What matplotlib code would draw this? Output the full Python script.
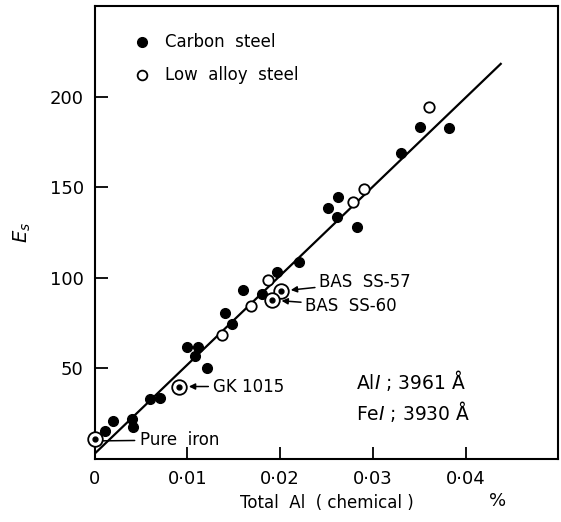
# Es against total Al, carbon and low alloy steels
import matplotlib.pyplot as plt

plt.rcParams['font.family'] = ['DejaVu Sans']

# carbon steel (filled)
carbon_al = [0.0011, 0.0020, 0.0040, 0.0041, 0.0060, 0.0070, 0.0100, 0.0108, 0.0111,
             0.0121, 0.0140, 0.0148, 0.0160, 0.0180, 0.0197, 0.0220, 0.0252, 0.0261,
             0.0262, 0.0283, 0.0330, 0.0351, 0.0382]
carbon_es = [15.5, 21, 22, 17.7, 33, 33.7, 62, 57, 62,
             50, 80.6, 74.5, 93, 91, 103, 108.7, 138.5, 133.5,
             144.6, 128, 169, 183, 182.7]

# low alloy steel (open)
alloy_al = [0.0137, 0.0169, 0.0187, 0.0279, 0.0290, 0.0361]
alloy_es = [68.5, 84.4, 98.8, 141.8, 149, 194]

# standard samples (circled dot)
std_names = ["Pure  iron", "GK 1015", "BAS  SS-57", "BAS  SS-60"]
std_al = [0.0000, 0.0091, 0.0201, 0.0191]
std_es = [11, 40, 92.7, 87.7]

# calibration line
line_al = [0.0, 0.0438]
intercept, slope = 3.0, 4910.0
line_es = [intercept + slope * v for v in line_al]

fig = plt.figure(figsize=(5.61, 5.22), dpi=100)
ax = fig.add_axes([0.169, 0.1207, 0.826, 0.8678])

ax.plot(line_al, line_es, color='black', lw=1.6, zorder=2)
ax.plot(carbon_al, carbon_es, 'o', ms=7, color='black', zorder=3)
ax.plot(alloy_al, alloy_es, 'o', ms=7.5, mfc='white', mec='black', mew=1.3, zorder=3)
ax.plot(std_al, std_es, 'o', ms=10.5, mfc='white', mec='black', mew=1.3, zorder=3, clip_on=False)
ax.plot(std_al, std_es, 'o', ms=3.5, color='black', zorder=4, clip_on=False)

ax.set_xlim(0, 0.05)
ax.set_ylim(0, 250)
ax.set_xticks([0, 0.01, 0.02, 0.03, 0.04])
ax.set_xticklabels(["0", "0·01", "0·02", "0·03", "0·04"])
ax.set_yticks([50, 100, 150, 200])
ax.tick_params(direction='in', length=9, width=1.3, labelsize=13)
ax.tick_params(axis='y', pad=8)
ax.tick_params(axis='x', pad=8)
for s in ax.spines.values():
    s.set_linewidth(1.5)

ax.set_xlabel("Total  Al  ( chemical )", fontsize=12, labelpad=4)
ax.set_ylabel(r"$E_s$", fontsize=14, labelpad=12)
ax.text(0.0435, -23, "%", fontsize=13, ha='center', va='center', clip_on=False)

# legend
ax.plot([0.0051], [230], 'o', ms=7, color='black')
ax.text(0.0076, 230, "Carbon  steel", fontsize=12, va='center')
ax.plot([0.0051], [212], 'o', ms=7, mfc='white', mec='black', mew=1.3)
ax.text(0.0076, 212, "Low  alloy  steel", fontsize=12, va='center')

# sample labels
ax.annotate(std_names[0], xy=(std_al[0] + 0.0006, std_es[0] - 1), xytext=(0.0049, 10.5),
            fontsize=12, va='center',
            arrowprops=dict(arrowstyle='-', lw=1.1, color='black', shrinkA=2, shrinkB=2))
label_pos = [(0.0127, 40), (0.0242, 97.5), (0.0227, 84.5)]
for name, x, y, pos in zip(std_names[1:], std_al[1:], std_es[1:], label_pos):
    ax.annotate(name, xy=(x, y), xytext=pos, fontsize=12, va='center',
                arrowprops=dict(arrowstyle='-|>', mutation_scale=9, lw=1.1, color='black',
                                shrinkA=1, shrinkB=7))

ax.text(0.0282, 43.5, r"Al$\mathit{I}$ ; 3961 Å", fontsize=13.5, va='center')
ax.text(0.0282, 26, r"Fe$\mathit{I}$ ; 3930 Å", fontsize=13.5, va='center')

fig.savefig("out.png", dpi=100)
